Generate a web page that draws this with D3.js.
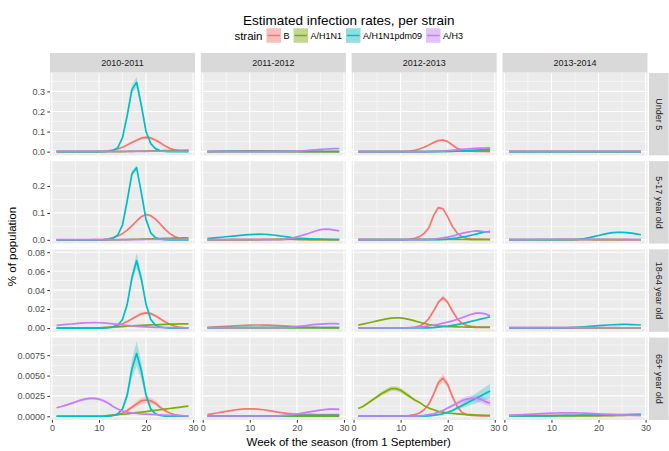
<!DOCTYPE html>
<html><head><meta charset="utf-8">
<script src="https://cdn.jsdelivr.net/npm/d3@7"></script>
<style>body{margin:0;background:#fff}</style>
</head><body><svg id="c" width="669" height="451"></svg>
<script>
// ---------- DATA ----------
const weeks = [1,2,3,4,5,6,7,8,9,10,11,12,13,14,15,16,17,18,19,20,21,22,23,24,25,26,27,28,29];
const seasons = ["2010-2011","2011-2012","2012-2013","2013-2014"];
const ageGroups = ["Under 5","5-17 year old","18-64 year old","65+ year old"];
const strains = ["B","A/H1N1","A/H1N1pdm09","A/H3"];
const strainColors = ["#F8766D","#7CAE00","#00BFC4","#C77CFF"];
const xTicks = [0,10,20,30];
const xMinor = [5,15,25];
const yTicks = [[0,0.1,0.2,0.3],[0,0.1,0.2],[0,0.02,0.04,0.06,0.08],[0,0.0025,0.005,0.0075]];
const yTickLabels = [["0.0","0.1","0.2","0.3"],["0.0","0.1","0.2"],["0.00","0.02","0.04","0.06","0.08"],["0.0000","0.0025","0.0050","0.0075"]];
const yMinor = [[0.05,0.15,0.25,0.35],[0.05,0.15,0.25],[0.01,0.03,0.05,0.07],[0.00125,0.00375,0.00625,0.00875]];

// 2010-2011
const B_u5_s10  = [0,0,0,0,0,0,0,0,0.0005,0.001,0.002,0.004,0.008,0.014,0.022,0.033,0.045,0.057,0.067,0.071,0.068,0.058,0.044,0.029,0.017,0.009,0.004,0.002,0.001];
const H1_u5_s10 = [0,0,0,0,0,0,0,0,0,0,0,0,0,0,0.0005,0.001,0.0015,0.002,0.0025,0.003,0.0035,0.004,0.0045,0.005,0.0055,0.006,0.0065,0.007,0.0075];
const P_u5_s10  = [0,0,0,0,0,0,0,0,0,0,0.0005,0.002,0.006,0.02,0.07,0.18,0.31,0.345,0.23,0.10,0.04,0.015,0.005,0.001,0,0,0,0,0];
const H3_u5_s10 = [0.001,0.001,0.001,0.001,0.001,0.001,0.001,0.001,0.001,0.001,0.001,0.001,0.001,0.001,0.001,0.001,0.001,0.0012,0.0014,0.0016,0.0018,0.002,0.002,0.002,0.002,0.002,0.002,0.002,0.002];

const B_c517_s10  = [0,0,0,0,0,0,0,0,0.0005,0.001,0.002,0.004,0.008,0.014,0.023,0.036,0.052,0.070,0.086,0.094,0.090,0.077,0.059,0.040,0.024,0.013,0.006,0.003,0.001];
const H1_c517_s10 = [0,0,0,0,0,0,0,0,0,0,0,0,0,0,0.0006,0.0011,0.0016,0.0021,0.0026,0.0031,0.0036,0.0041,0.0046,0.0051,0.0056,0.0061,0.0066,0.0071,0.0076];
const P_c517_s10  = [0,0,0,0,0,0,0,0,0,0,0.0005,0.002,0.006,0.018,0.055,0.145,0.245,0.268,0.175,0.075,0.026,0.008,0.003,0.001,0,0,0,0,0];
const H3_c517_s10 = [0.0008,0.0008,0.0008,0.0008,0.0008,0.0008,0.0008,0.0008,0.0008,0.0008,0.0008,0.0008,0.0008,0.0008,0.0008,0.0008,0.0009,0.001,0.0011,0.0012,0.0013,0.0014,0.0015,0.0015,0.0015,0.0015,0.0015,0.0015,0.0015];

const B_a1864_s10  = [0,0,0,0,0,0,0,0,0,0.0002,0.0004,0.0008,0.0015,0.0028,0.0045,0.0068,0.0095,0.0125,0.015,0.016,0.0152,0.013,0.0098,0.0066,0.004,0.0022,0.0011,0.0005,0.0002];
const H1_a1864_s10 = [0,0,0,0,0,0,0,0,0,0.0002,0.0004,0.0007,0.001,0.0013,0.0016,0.0019,0.0022,0.0025,0.0028,0.003,0.0033,0.0035,0.0037,0.0039,0.0041,0.0042,0.0043,0.0044,0.0045];
const P_a1864_s10  = [0,0,0,0,0,0,0,0,0,0,0,0.0003,0.001,0.003,0.009,0.025,0.053,0.071,0.052,0.025,0.009,0.003,0.001,0.0003,0,0,0,0,0];
const H3_a1864_s10 = [0.0028,0.0033,0.0038,0.0043,0.0047,0.0051,0.0054,0.0056,0.0057,0.0056,0.0054,0.005,0.0045,0.0039,0.0033,0.0027,0.0022,0.0018,0.0015,0.0012,0.001,0.0008,0.0007,0.0006,0.0005,0.0004,0.0003,0.0002,0.0002];

const B_e65_s10  = [0,0,0,0,0,0,0,0,0,0,0,0,0.0001,0.0002,0.0004,0.0007,0.0011,0.0015,0.0019,0.002,0.0019,0.0016,0.0011,0.0007,0.0004,0.0002,0.0001,0.00005,0];
const H1_e65_s10 = [0,0,0,0,0,0,0,0,0,0,0.00003,0.0001,0.00015,0.0002,0.00025,0.0003,0.00037,0.00044,0.0005,0.00058,0.00065,0.00073,0.0008,0.00088,0.00095,0.00103,0.0011,0.00118,0.00125];
const P_e65_s10  = [0,0,0,0,0,0,0,0,0,0,0,0,0.0001,0.0003,0.0009,0.0026,0.0058,0.0077,0.0056,0.0026,0.0009,0.0003,0.0001,0,0,0,0,0,0];
const H3_e65_s10 = [0.00105,0.0012,0.00137,0.00155,0.00175,0.00195,0.0021,0.0022,0.0022,0.0021,0.0019,0.0016,0.0012,0.0009,0.00065,0.0005,0.0004,0.00035,0.0003,0.00027,0.00024,0.0002,0.00018,0.00015,0.00012,0.0001,0.00008,0.00006,0.00005];

// 2011-2012
const B_u5_s11  = [0.0005,0.001,0.0013,0.0017,0.002,0.0024,0.0028,0.0032,0.0035,0.0037,0.0038,0.0037,0.0035,0.0031,0.0026,0.0021,0.0016,0.0012,0.0009,0.0007,0.0005,0.0004,0.0003,0.0002,0.0002,0.0002,0.0002,0.0002,0.0002];
const H1_u5_s11 = [0.0003,0.0003,0.0003,0.0003,0.0003,0.0003,0.0003,0.0003,0.0003,0.0003,0.0003,0.0003,0.0003,0.0003,0.0003,0.0003,0.0003,0.0003,0.0003,0.0003,0.0003,0.0003,0.0003,0.0003,0.0003,0.0003,0.0003,0.0003,0.0003];
const P_u5_s11  = [0.0005,0.0006,0.0007,0.0008,0.0009,0.001,0.0011,0.0012,0.0013,0.0014,0.0015,0.0015,0.0015,0.0015,0.0014,0.0013,0.0012,0.0011,0.001,0.001,0.0009,0.0009,0.0008,0.0008,0.0008,0.0007,0.0007,0.0007,0.0007];
const H3_u5_s11 = [0.0005,0.0005,0.0005,0.0005,0.0005,0.0005,0.0005,0.0005,0.0005,0.0005,0.0005,0.0005,0.0005,0.0005,0.0005,0.0005,0.0005,0.001,0.0017,0.0027,0.004,0.0056,0.0075,0.0095,0.0115,0.013,0.014,0.0145,0.0145];

const B_c517_s11  = [0.0005,0.0006,0.0008,0.001,0.0012,0.0014,0.0016,0.0018,0.002,0.0021,0.0022,0.0022,0.0022,0.0021,0.002,0.0019,0.0018,0.0016,0.0014,0.0012,0.001,0.0009,0.0008,0.0007,0.0006,0.0005,0.0005,0.0004,0.0004];
const H1_c517_s11 = [0.0002,0.0002,0.0002,0.0002,0.0002,0.0002,0.0002,0.0002,0.0002,0.0002,0.0002,0.0002,0.0005,0.0008,0.0012,0.0016,0.002,0.0022,0.0022,0.002,0.0017,0.0014,0.0011,0.0008,0.0006,0.0005,0.0004,0.0003,0.0003];
const P_c517_s11  = [0.005,0.0065,0.008,0.0097,0.0115,0.0133,0.015,0.0167,0.0182,0.0195,0.0205,0.021,0.0207,0.0197,0.018,0.0158,0.0133,0.0108,0.0086,0.0068,0.0054,0.0043,0.0035,0.0029,0.0024,0.0021,0.0019,0.0017,0.0016];
const H3_c517_s11 = [0.0005,0.0005,0.0005,0.0005,0.0005,0.0005,0.0005,0.0005,0.0005,0.0005,0.0005,0.0005,0.0005,0.0005,0.0005,0.001,0.002,0.004,0.007,0.011,0.016,0.021,0.027,0.033,0.038,0.040,0.039,0.036,0.033];

const B_a1864_s11  = [0.0006,0.0009,0.0012,0.0015,0.0018,0.0021,0.0024,0.0027,0.0029,0.0031,0.0032,0.0032,0.0031,0.003,0.0028,0.0026,0.0023,0.002,0.0017,0.0014,0.0012,0.001,0.0008,0.0007,0.0006,0.0005,0.0005,0.0004,0.0004];
const H1_a1864_s11 = [0.0002,0.0002,0.0002,0.0002,0.0002,0.0002,0.0002,0.0002,0.0002,0.0002,0.0002,0.0002,0.0002,0.0002,0.0002,0.0002,0.0002,0.0002,0.0002,0.0002,0.0002,0.0002,0.0002,0.0002,0.0002,0.0002,0.0002,0.0002,0.0002];
const P_a1864_s11  = [0.0004,0.0004,0.0005,0.0005,0.0006,0.0006,0.0007,0.0007,0.0008,0.0008,0.0008,0.0008,0.0008,0.0008,0.0008,0.0007,0.0007,0.0007,0.0006,0.0006,0.0006,0.0006,0.0006,0.0006,0.0006,0.0006,0.0006,0.0006,0.0006];
const H3_a1864_s11 = [0.0003,0.0003,0.0003,0.0003,0.0003,0.0003,0.0003,0.0003,0.0003,0.0003,0.0003,0.0003,0.0003,0.0003,0.0003,0.0003,0.0003,0.0006,0.001,0.0015,0.0021,0.0027,0.0033,0.0038,0.0042,0.0045,0.0046,0.0046,0.0045];

const B_e65_s11  = [0.0002,0.0003,0.0004,0.0005,0.0006,0.0007,0.0008,0.00085,0.0009,0.0009,0.0009,0.00085,0.0008,0.0007,0.0006,0.0005,0.00042,0.00035,0.0003,0.00027,0.00025,0.00023,0.00022,0.0002,0.0002,0.0002,0.0002,0.0002,0.0002];
const H1_e65_s11 = [0.00002,0.00002,0.00002,0.00002,0.00002,0.00002,0.00002,0.00002,0.00002,0.00002,0.00002,0.00002,0.00002,0.00002,0.00002,0.00002,0.00002,0.00002,0.00002,0.00002,0.00002,0.00002,0.00002,0.00002,0.00002,0.00002,0.00002,0.00002,0.00002];
const P_e65_s11  = [0.00003,0.00003,0.00003,0.00003,0.00003,0.00003,0.00003,0.00003,0.00003,0.00003,0.00003,0.00003,0.00003,0.00003,0.00003,0.00005,0.00006,0.00007,0.00008,0.00009,0.0001,0.0001,0.0001,0.0001,0.0001,0.0001,0.0001,0.0001,0.0001];
const H3_e65_s11 = [0.00003,0.00003,0.00003,0.00003,0.00003,0.00003,0.00003,0.00003,0.00003,0.00003,0.00003,0.00003,0.00003,0.00003,0.00003,0.00005,0.0001,0.00015,0.0002,0.00028,0.00037,0.00047,0.00057,0.00067,0.00076,0.00083,0.00087,0.00087,0.00085];

// 2012-2013
const B_u5_s12  = [0.0003,0.0003,0.0003,0.0003,0.0003,0.0003,0.0003,0.0003,0.0003,0.0003,0.001,0.003,0.007,0.013,0.022,0.033,0.045,0.055,0.058,0.050,0.033,0.017,0.008,0.004,0.002,0.0012,0.0008,0.0006,0.0005];
const H1_u5_s12 = [0.0002,0.0002,0.0002,0.0002,0.0002,0.0002,0.0002,0.0002,0.0002,0.0002,0.0002,0.0002,0.0002,0.0002,0.0004,0.0006,0.0008,0.001,0.0012,0.0014,0.0017,0.002,0.0023,0.0026,0.0029,0.0032,0.0035,0.0038,0.004];
const P_u5_s12  = [0.0002,0.0002,0.0002,0.0002,0.0002,0.0002,0.0002,0.0002,0.0002,0.0002,0.0002,0.0002,0.0002,0.0002,0.0002,0.0002,0.0002,0.0005,0.001,0.0015,0.002,0.003,0.004,0.005,0.0065,0.008,0.0095,0.011,0.0125];
const H3_u5_s12 = [0.0005,0.0005,0.0005,0.0005,0.0005,0.0005,0.0005,0.0005,0.0005,0.0005,0.0005,0.0005,0.0005,0.0005,0.0005,0.0005,0.001,0.002,0.003,0.005,0.007,0.009,0.011,0.013,0.015,0.016,0.017,0.018,0.019];

const B_c517_s12  = [0.0005,0.0005,0.0005,0.0005,0.0005,0.0005,0.0005,0.0005,0.0005,0.0005,0.001,0.003,0.006,0.012,0.024,0.045,0.09,0.12,0.115,0.085,0.05,0.025,0.012,0.006,0.004,0.003,0.0025,0.0022,0.002];
const H1_c517_s12 = [0.0005,0.0005,0.0005,0.0005,0.0005,0.0005,0.0005,0.0005,0.0007,0.0009,0.0011,0.0013,0.0015,0.0016,0.0017,0.0018,0.0018,0.0018,0.0017,0.0016,0.0015,0.0014,0.0013,0.0012,0.0011,0.001,0.001,0.001,0.001];
const P_c517_s12  = [0.0005,0.0005,0.0005,0.0005,0.0005,0.0005,0.0005,0.0005,0.0005,0.0005,0.0005,0.0005,0.0005,0.0005,0.0005,0.0005,0.0005,0.001,0.002,0.003,0.005,0.007,0.010,0.013,0.017,0.021,0.026,0.029,0.032];
const H3_c517_s12 = [0.0005,0.0005,0.0005,0.0005,0.0005,0.0005,0.0005,0.0005,0.0005,0.0005,0.0005,0.0005,0.0005,0.0005,0.001,0.002,0.003,0.005,0.007,0.010,0.014,0.019,0.024,0.028,0.031,0.033,0.032,0.030,0.029];

const B_a1864_s12  = [0.0003,0.0003,0.0003,0.0003,0.0003,0.0003,0.0003,0.0003,0.0003,0.0003,0.0003,0.0006,0.001,0.002,0.005,0.010,0.018,0.027,0.032,0.027,0.018,0.010,0.005,0.0028,0.0018,0.0013,0.0011,0.001,0.0009];
const H1_a1864_s12 = [0.0032,0.0042,0.0053,0.0064,0.0075,0.0086,0.0096,0.0104,0.0108,0.0107,0.01,0.0089,0.0075,0.0061,0.0048,0.0037,0.0029,0.0023,0.0019,0.0016,0.0014,0.0012,0.0011,0.001,0.0009,0.0008,0.0008,0.0007,0.0007];
const P_a1864_s12  = [0.0002,0.0002,0.0002,0.0002,0.0002,0.0002,0.0002,0.0002,0.0002,0.0002,0.0002,0.0002,0.0002,0.0002,0.0002,0.0002,0.0005,0.001,0.0015,0.002,0.0028,0.0037,0.0047,0.0058,0.007,0.0082,0.0094,0.0106,0.0118];
const H3_a1864_s12 = [0.0003,0.0003,0.0003,0.0003,0.0003,0.0003,0.0003,0.0003,0.0003,0.0003,0.0003,0.0003,0.0006,0.001,0.0015,0.0022,0.003,0.004,0.0052,0.0063,0.0075,0.009,0.0108,0.0127,0.0145,0.0157,0.0158,0.015,0.0128];

const B_e65_s12  = [0.00003,0.00003,0.00003,0.00003,0.00003,0.00003,0.00003,0.00003,0.00003,0.00003,0.00003,0.0001,0.0002,0.0004,0.0008,0.0015,0.0027,0.0041,0.0047,0.0039,0.0024,0.0012,0.0005,0.0002,0.0001,0.00007,0.00005,0.00004,0.00003];
const H1_e65_s12 = [0.00095,0.0012,0.0016,0.002,0.0024,0.0028,0.0031,0.0034,0.0034,0.0032,0.0028,0.0024,0.002,0.0017,0.0013,0.001,0.0008,0.0006,0.0005,0.0004,0.00035,0.0003,0.00025,0.0002,0.0002,0.00015,0.00015,0.0001,0.0001];
const P_e65_s12  = [0.00002,0.00002,0.00002,0.00002,0.00002,0.00002,0.00002,0.00002,0.00002,0.00002,0.00002,0.00002,0.00002,0.00002,0.00002,0.00005,0.0001,0.0002,0.0003,0.0005,0.0007,0.001,0.0013,0.0016,0.0019,0.0022,0.0025,0.0028,0.0031];
const H3_e65_s12 = [0.00003,0.00003,0.00003,0.00003,0.00003,0.00003,0.00003,0.00003,0.00003,0.00003,0.00003,0.00003,0.00003,0.00003,0.0001,0.0002,0.0003,0.0005,0.0007,0.001,0.0013,0.0016,0.0019,0.0021,0.0022,0.0022,0.0021,0.0018,0.0016];

// 2013-2014
const B_u5_s13  = [0.0006,0.0006,0.0006,0.0006,0.0006,0.0006,0.0006,0.0006,0.0006,0.0006,0.0006,0.0006,0.0006,0.0005,0.0005,0.0005,0.0005,0.0005,0.0005,0.0005,0.0005,0.0005,0.0005,0.0005,0.0005,0.0005,0.0005,0.0005,0.0005];
const H1_u5_s13 = [0.0003,0.0003,0.0003,0.0003,0.0003,0.0003,0.0003,0.0003,0.0003,0.0003,0.0003,0.0003,0.0003,0.0003,0.0003,0.0003,0.0003,0.0003,0.0003,0.0003,0.0003,0.0003,0.0003,0.0003,0.0003,0.0003,0.0003,0.0003,0.0003];
const P_u5_s13  = [0.0004,0.0004,0.0004,0.0004,0.0004,0.0004,0.0004,0.0004,0.0004,0.0004,0.0004,0.0004,0.0004,0.0004,0.0004,0.0004,0.0004,0.0004,0.0005,0.0005,0.0005,0.0005,0.0005,0.0005,0.0005,0.0005,0.0005,0.0005,0.0005];
const H3_u5_s13 = [0.0008,0.0008,0.0008,0.0008,0.0008,0.0008,0.0008,0.0008,0.0008,0.0008,0.0008,0.0008,0.0008,0.0008,0.0008,0.0008,0.0008,0.0008,0.0008,0.0008,0.0008,0.0008,0.0008,0.0008,0.0008,0.0008,0.0008,0.0008,0.0008];

const B_c517_s13  = [0.0005,0.0005,0.0005,0.0005,0.0005,0.0005,0.0005,0.0005,0.0005,0.0005,0.0005,0.0005,0.0005,0.0005,0.0005,0.0005,0.0005,0.0005,0.0005,0.0005,0.0005,0.0005,0.0005,0.0005,0.0005,0.0005,0.0005,0.0005,0.0005];
const H1_c517_s13 = [0.0003,0.0003,0.0003,0.0003,0.0003,0.0003,0.0003,0.0003,0.0003,0.0003,0.0005,0.0007,0.0009,0.001,0.0011,0.0012,0.0012,0.0012,0.0011,0.001,0.0009,0.0008,0.0007,0.0006,0.0005,0.0005,0.0004,0.0004,0.0004];
const P_c517_s13  = [0.0008,0.0008,0.0008,0.0008,0.0008,0.0008,0.0008,0.0008,0.0008,0.0008,0.0008,0.0008,0.0008,0.0008,0.0015,0.003,0.005,0.008,0.012,0.016,0.020,0.024,0.027,0.028,0.028,0.027,0.025,0.022,0.019];
const H3_c517_s13 = [0.0008,0.0009,0.001,0.0011,0.0012,0.0013,0.0014,0.0015,0.0016,0.0017,0.0018,0.0019,0.002,0.002,0.002,0.002,0.0019,0.0018,0.0017,0.0016,0.0015,0.0014,0.0013,0.0012,0.0011,0.001,0.001,0.0009,0.0009];

const B_a1864_s13  = [0.0006,0.0006,0.0006,0.0006,0.0006,0.0005,0.0005,0.0005,0.0005,0.0005,0.0004,0.0004,0.0004,0.0004,0.0004,0.0003,0.0003,0.0003,0.0003,0.0003,0.0003,0.0003,0.0003,0.0003,0.0003,0.0003,0.0003,0.0003,0.0003];
const H1_a1864_s13 = [0.0002,0.0002,0.0002,0.0002,0.0002,0.0002,0.0002,0.0002,0.0002,0.0002,0.0002,0.0002,0.0002,0.0002,0.0002,0.0002,0.0002,0.0002,0.0002,0.0002,0.0002,0.0002,0.0002,0.0002,0.0002,0.0002,0.0002,0.0002,0.0002];
const P_a1864_s13  = [0.0002,0.0002,0.0002,0.0002,0.0002,0.0002,0.0002,0.0002,0.0002,0.0002,0.0002,0.0002,0.0003,0.0005,0.0007,0.001,0.0013,0.0017,0.0021,0.0025,0.0029,0.0032,0.0035,0.0037,0.0038,0.0038,0.0037,0.0035,0.0032];
const H3_a1864_s13 = [0.0005,0.0005,0.0005,0.0005,0.0005,0.0005,0.0005,0.0005,0.0005,0.0005,0.0005,0.0005,0.0005,0.0005,0.0005,0.0004,0.0004,0.0004,0.0004,0.0004,0.0004,0.0004,0.0004,0.0004,0.0003,0.0003,0.0003,0.0003,0.0003];

const B_e65_s13  = [0.0001,0.0001,0.0001,0.0001,0.0001,0.0001,0.0001,0.0001,0.0001,0.0001,0.0001,0.0001,0.0001,0.0001,0.0001,0.0001,0.0001,0.0001,0.0001,0.0001,0.0001,0.0001,0.0001,0.0001,0.0001,0.0001,0.0001,0.0001,0.0001];
const H1_e65_s13 = [0.00005,0.00005,0.00005,0.00005,0.00005,0.00005,0.00005,0.00005,0.00005,0.00005,0.00005,0.00005,0.00005,0.00005,0.00005,0.00005,0.00005,0.00005,0.00005,0.00005,0.00006,0.00007,0.00008,0.0001,0.00012,0.00014,0.00016,0.00018,0.0002];
const P_e65_s13  = [0.00005,0.00005,0.00005,0.00005,0.00005,0.00005,0.00005,0.00005,0.00005,0.00005,0.00007,0.00009,0.0001,0.00011,0.00012,0.00013,0.00014,0.00015,0.00016,0.00017,0.00018,0.00019,0.0002,0.0002,0.00021,0.00021,0.00022,0.00022,0.00022];
const H3_e65_s13 = [0.0001,0.00013,0.00016,0.0002,0.00023,0.00027,0.0003,0.00033,0.00036,0.00038,0.0004,0.00041,0.00042,0.00042,0.00041,0.0004,0.00038,0.00035,0.00032,0.00029,0.00026,0.00023,0.0002,0.00018,0.00016,0.00014,0.00013,0.00012,0.00011];

// ribbon half-widths (week: value)
const ci_P_u5_s10 = {14:0.002,15:0.005,16:0.012,17:0.02,18:0.028,19:0.018,20:0.008,21:0.003,22:0.001};
const ci_B_u5_s10 = {14:0.001,15:0.002,16:0.003,17:0.005,18:0.006,19:0.007,20:0.008,21:0.007,22:0.006,23:0.005,24:0.003,25:0.002,26:0.001};
const ci_P_c517_s10 = {14:0.001,15:0.003,16:0.006,17:0.009,18:0.010,19:0.007,20:0.003,21:0.001};
const ci_B_c517_s10 = {16:0.002,17:0.003,18:0.004,19:0.004,20:0.004,21:0.004,22:0.004,23:0.003,24:0.002,25:0.001};
const ci_P_a1864_s10 = {15:0.001,16:0.002,17:0.005,18:0.008,19:0.005,20:0.002,21:0.001};
const ci_B_a1864_s10 = {16:0.0006,17:0.001,18:0.0013,19:0.0015,20:0.0016,21:0.0015,22:0.0013,23:0.001,24:0.0007,25:0.0004};
const ci_P_e65_s10 = {15:0.0002,16:0.0005,17:0.0011,18:0.0015,19:0.0011,20:0.0005,21:0.0002};
const ci_B_e65_s10 = {16:0.00015,17:0.00025,18:0.00032,19:0.00038,20:0.0004,21:0.00038,22:0.0003,23:0.0002,24:0.00012,25:0.00006};
const ci_H3_e65_s10 = {1:0.0001,2:0.0001,3:0.00012,4:0.00013,5:0.00014,6:0.00015,7:0.00016,8:0.00017,9:0.00017,10:0.00016,11:0.00015,12:0.00013,13:0.0001,14:0.00008};
const ci_H3_e65_s11 = {21:0.00005,22:0.00007,23:0.00009,24:0.0001,25:0.00011,26:0.00012,27:0.00013,28:0.00014,29:0.00015};
const ci_B_e65_s11 = {6:0.00006,7:0.00007,8:0.00008,9:0.00008,10:0.00008,11:0.00008,12:0.00007,13:0.00006};
const ci_B_u5_s12 = {15:0.002,16:0.003,17:0.004,18:0.005,19:0.006,20:0.005,21:0.004,22:0.002,23:0.001};
const ci_H3_u5_s12 = {21:0.001,22:0.0015,23:0.002,24:0.0025,25:0.003,26:0.0035,27:0.004,28:0.0045,29:0.005};
const ci_P_u5_s12 = {23:0.001,24:0.0012,25:0.0015,26:0.0018,27:0.002,28:0.0023,29:0.0025};
const ci_B_c517_s12 = {16:0.002,17:0.003,18:0.004,19:0.004,20:0.003,21:0.002};
const ci_H3_c517_s12 = {22:0.001,23:0.0012,24:0.0014,25:0.0016,26:0.0018,27:0.002,28:0.0022,29:0.0024};
const ci_B_a1864_s12 = {16:0.0008,17:0.0012,18:0.0018,19:0.002,20:0.0018,21:0.0012,22:0.0008};
const ci_H3_a1864_s12 = {22:0.0005,23:0.0006,24:0.0007,25:0.0008,26:0.0009,27:0.001,28:0.001,29:0.0011};
const ci_H1_e65_s12 = {3:0.0001,4:0.00015,5:0.0002,6:0.00025,7:0.0003,8:0.0003,9:0.0003,10:0.0003,11:0.00025,12:0.0002,13:0.00015,14:0.0001};
const ci_B_e65_s12 = {16:0.0002,17:0.0003,18:0.0004,19:0.0005,20:0.0004,21:0.0003,22:0.0002};
const ci_P_e65_s12 = {20:0.0001,21:0.00015,22:0.0002,23:0.0003,24:0.0004,25:0.0005,26:0.0006,27:0.0007,28:0.0008,29:0.0009};
const ci_H3_e65_s12 = {19:0.0001,20:0.00015,21:0.0002,22:0.00025,23:0.0003,24:0.00033,25:0.00036,26:0.0004,27:0.0004,28:0.0004,29:0.0004};
const ci_P_c517_s13 = {19:0.0008,20:0.001,21:0.0012,22:0.0014,23:0.0015,24:0.0016,25:0.0016,26:0.0016,27:0.0015,28:0.0015,29:0.0015};

// table [row][col][strain]
const panelData = [
  [[B_u5_s10,H1_u5_s10,P_u5_s10,H3_u5_s10],[B_u5_s11,H1_u5_s11,P_u5_s11,H3_u5_s11],[B_u5_s12,H1_u5_s12,P_u5_s12,H3_u5_s12],[B_u5_s13,H1_u5_s13,P_u5_s13,H3_u5_s13]],
  [[B_c517_s10,H1_c517_s10,P_c517_s10,H3_c517_s10],[B_c517_s11,H1_c517_s11,P_c517_s11,H3_c517_s11],[B_c517_s12,H1_c517_s12,P_c517_s12,H3_c517_s12],[B_c517_s13,H1_c517_s13,P_c517_s13,H3_c517_s13]],
  [[B_a1864_s10,H1_a1864_s10,P_a1864_s10,H3_a1864_s10],[B_a1864_s11,H1_a1864_s11,P_a1864_s11,H3_a1864_s11],[B_a1864_s12,H1_a1864_s12,P_a1864_s12,H3_a1864_s12],[B_a1864_s13,H1_a1864_s13,P_a1864_s13,H3_a1864_s13]],
  [[B_e65_s10,H1_e65_s10,P_e65_s10,H3_e65_s10],[B_e65_s11,H1_e65_s11,P_e65_s11,H3_e65_s11],[B_e65_s12,H1_e65_s12,P_e65_s12,H3_e65_s12],[B_e65_s13,H1_e65_s13,P_e65_s13,H3_e65_s13]]
];
const panelCI = [
  [[ci_B_u5_s10,null,ci_P_u5_s10,null],[null,null,null,null],[ci_B_u5_s12,null,ci_P_u5_s12,ci_H3_u5_s12],[null,null,null,null]],
  [[ci_B_c517_s10,null,ci_P_c517_s10,null],[null,null,null,null],[ci_B_c517_s12,null,null,ci_H3_c517_s12],[null,null,ci_P_c517_s13,null]],
  [[ci_B_a1864_s10,null,ci_P_a1864_s10,null],[null,null,null,null],[ci_B_a1864_s12,null,null,ci_H3_a1864_s12],[null,null,null,null]],
  [[ci_B_e65_s10,null,ci_P_e65_s10,ci_H3_e65_s10],[ci_B_e65_s11,null,null,ci_H3_e65_s11],[ci_B_e65_s12,ci_H1_e65_s12,ci_P_e65_s12,ci_H3_e65_s12],[null,null,null,null]]
];

// ---------- DRAW ----------
(function(){
const W = 669, H = 451;
const FONT = '"Liberation Sans", Arial, Helvetica, sans-serif';
const pL = 50, pR = 647.5, pT = 73, pB = 420, gap = 5.83;
const pw = (pR - pL - 3*gap)/4, ph = (pB - pT - 3*gap)/4;
const colX = seasons.map((s,i)=> pL + i*(pw+gap));
const rowY = ageGroups.map((a,i)=> pT + i*(ph+gap));

const svg = d3.select("#c").style("font-family", FONT);
svg.append("rect").attr("width",W).attr("height",H).attr("fill","#fff");

function expand(ext){ const d=(ext[1]-ext[0])*0.05; return [ext[0]-d, ext[1]+d]; }
const x = d3.scaleLinear().domain(expand(d3.extent(weeks))).range([0,pw]);

const defs = svg.append("defs");
defs.append("clipPath").attr("id","pclip").append("rect").attr("width",pw).attr("height",ph);

function ciAt(ci, w){ return ci && ci[w] ? ci[w] : 0; }

ageGroups.forEach((age, r) => {
  const all = [];
  seasons.forEach((s,c)=> strains.forEach((st,k)=>{
    const ci = panelCI[r][c][k];
    panelData[r][c][k].forEach((v,i)=>{ const e=ciAt(ci,weeks[i]); all.push(v+e, v-e); });
  }));
  const y = d3.scaleLinear().domain(expand(d3.extent(all))).range([ph,0]);

  seasons.forEach((season, c) => {
    const g = svg.append("g").attr("transform",`translate(${colX[c]},${rowY[r]})`);
    g.append("rect").attr("width",pw).attr("height",ph).attr("fill","#EBEBEB");
    g.append("g").selectAll("line").data(xMinor).join("line").attr("x1",d=>x(d)).attr("x2",d=>x(d)).attr("y1",0).attr("y2",ph)
      .attr("stroke","#fff").attr("stroke-width",0.53);
    g.append("g").selectAll("line").data(yMinor[r].filter(v=>v>=y.domain()[0]&&v<=y.domain()[1])).join("line")
      .attr("y1",d=>y(d)).attr("y2",d=>y(d)).attr("x1",0).attr("x2",pw).attr("stroke","#fff").attr("stroke-width",0.53);
    g.append("g").selectAll("line").data(xTicks.filter(v=>v>=x.domain()[0]&&v<=x.domain()[1])).join("line")
      .attr("x1",d=>x(d)).attr("x2",d=>x(d)).attr("y1",0).attr("y2",ph).attr("stroke","#fff").attr("stroke-width",1.07);
    g.append("g").selectAll("line").data(yTicks[r]).join("line")
      .attr("y1",d=>y(d)).attr("y2",d=>y(d)).attr("x1",0).attr("x2",pw).attr("stroke","#fff").attr("stroke-width",1.07);

    const plot = g.append("g").attr("clip-path","url(#pclip)");
    const area = d3.area().x(d=>x(d.w)).y0(d=>y(d.lo)).y1(d=>y(d.hi));
    const line = d3.line().x(d=>x(d.w)).y(d=>y(d.v));
    strains.forEach((st,k)=>{
      const ci = panelCI[r][c][k];
      if(!ci) return;
      const pts = weeks.map((w,i)=>{ const v=panelData[r][c][k][i], e=ciAt(ci,w); return {w, lo:v-e, hi:v+e}; });
      plot.append("path").attr("d",area(pts)).attr("fill",strainColors[k]).attr("fill-opacity",0.3);
    });
    strains.forEach((st,k)=>{
      const pts = weeks.map((w,i)=>({w, v:panelData[r][c][k][i]}));
      plot.append("path").attr("d",line(pts)).attr("fill","none").attr("stroke",strainColors[k])
        .attr("stroke-width",1.7).attr("stroke-linejoin","round");
    });

    if (c === 0) {
      const ax = g.append("g").call(d3.axisLeft(y).tickValues(yTicks[r]).tickFormat((d,i)=>yTickLabels[r][i]).tickSize(2.7).tickPadding(2.2));
      ax.select(".domain").remove();
      ax.selectAll("line").attr("stroke","#333333").attr("stroke-width",1);
      ax.selectAll("text").attr("fill","#4D4D4D").style("font-size","9px").style("font-family",FONT);
    }
    if (r === ageGroups.length-1) {
      const ax = g.append("g").attr("transform",`translate(0,${ph})`)
        .call(d3.axisBottom(x).tickValues(xTicks).tickFormat(d3.format("d")).tickSize(2.7).tickPadding(2.2));
      ax.select(".domain").remove();
      ax.selectAll("line").attr("stroke","#333333").attr("stroke-width",1);
      ax.selectAll("text").attr("fill","#4D4D4D").style("font-size","9px").style("font-family",FONT);
    }
    if (r === 0) {
      svg.append("rect").attr("x",colX[c]).attr("y",53).attr("width",pw).attr("height",19.6).attr("fill","#D9D9D9");
      svg.append("text").attr("x",colX[c]+pw/2).attr("y",53+9.8).attr("dy","0.35em").attr("text-anchor","middle")
        .style("font-size","9px").attr("fill","#1A1A1A").text(season);
    }
  });
  svg.append("rect").attr("x",649).attr("y",rowY[r]).attr("width",19.6).attr("height",ph).attr("fill","#D9D9D9");
  svg.append("text").attr("transform",`translate(${649+9.8},${rowY[r]+ph/2}) rotate(90)`).attr("dy","0.35em")
    .attr("text-anchor","middle").style("font-size","9px").attr("fill","#1A1A1A").text(age);
});

const cx = (pL+pR)/2;
svg.append("text").attr("x",cx).attr("y",24.5).attr("text-anchor","middle").style("font-size","13.5px").attr("fill","#000")
  .text("Estimated infection rates, per strain");
svg.append("text").attr("x",cx).attr("y",446).attr("text-anchor","middle").style("font-size","11.5px").attr("fill","#000")
  .text("Week of the season (from 1 September)");
svg.append("text").attr("transform",`translate(16,${(pT+pB)/2}) rotate(-90)`).attr("text-anchor","middle")
  .style("font-size","11.5px").attr("fill","#000").text("% of population");

const lg = svg.append("g");
const ly = 35.5, key = 14.5;
const lt = lg.append("text").attr("x",0).attr("y",ly).attr("dy","0.35em").style("font-size","11.5px").attr("fill","#000").text("strain");
let cursor = lt.node().getComputedTextLength() + 4;
strains.forEach((st,k)=>{
  lg.append("rect").attr("x",cursor).attr("y",ly-key/2).attr("width",key).attr("height",key).attr("fill","#F2F2F2");
  lg.append("rect").attr("x",cursor).attr("y",ly-key/2).attr("width",key).attr("height",key).attr("fill",strainColors[k]).attr("fill-opacity",0.4);
  lg.append("line").attr("x1",cursor+1).attr("x2",cursor+key-1).attr("y1",ly).attr("y2",ly).attr("stroke",strainColors[k]).attr("stroke-width",1.5);
  cursor += key + 2.5;
  const t = lg.append("text").attr("x",cursor).attr("y",ly).attr("dy","0.35em").style("font-size","9px").attr("fill","#000").text(st);
  cursor += t.node().getComputedTextLength() + 4;
});
cursor -= 4;
lg.attr("transform",`translate(${cx - cursor/2},0)`);
})();
</script>
</body></html>
